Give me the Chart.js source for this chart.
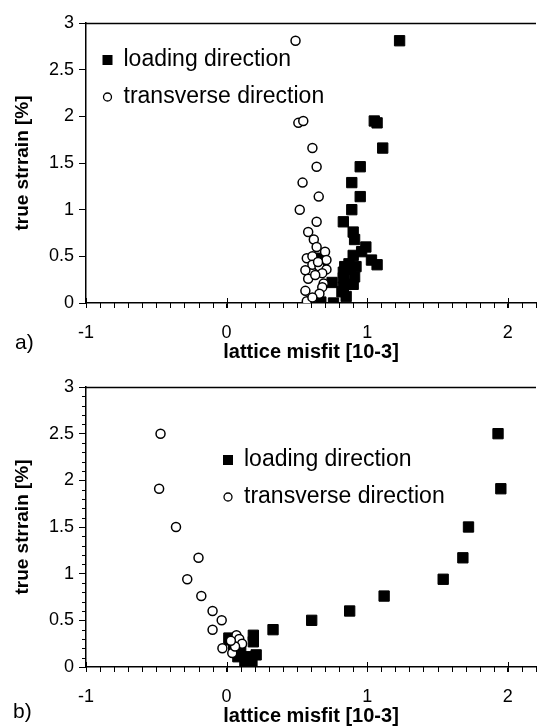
<!DOCTYPE html>
<html>
<head>
<meta charset="utf-8">
<script src="https://cdn.jsdelivr.net/npm/chart.js@4.4.1/dist/chart.umd.min.js"></script>
<style>
  body { margin: 0; background: #fff; overflow: hidden; }
  #wrap { position: relative; width: 540px; height: 726px; overflow: hidden; }
  canvas { position: absolute; left: 0; }
</style>
</head>
<body>
<div id="wrap">
  <canvas id="chartA" width="550" height="363" style="top:0px"></canvas>
  <canvas id="chartB" width="550" height="363" style="top:364px"></canvas>
</div>
<script>
// labels
var seriesNames = ['loading direction', 'transverse direction']
var xTitle = 'lattice misfit [10-3]'
var yTitle = 'true strrain [%]'
var xMin = -1, xMax = 2.2
var xMajorTicks = [-1, 0, 1, 2]
var yMajorTicks = [0, 0.5, 1, 1.5, 2, 2.5, 3]

// panel a) values [misfit, strain]
var loadingA = [[1.23,2.81],[1.05,1.95],[1.07,1.93],[1.11,1.66],[0.95,1.46],[0.89,1.29],[0.95,1.14],[0.89,1.00],
  [0.83,0.87],[0.90,0.76],[0.91,0.68],[0.99,0.60],[0.96,0.55],[0.90,0.51],[1.03,0.46],[1.07,0.41],[0.87,0.42],
  [0.84,0.39],[0.92,0.39],[0.83,0.33],[0.91,0.28],[0.83,0.27],[0.75,0.22],[0.83,0.17],[0.85,0.07],[0.76,0.00],
  [0.67,0.01],[0.67,0.48],[0.68,0.42],[0.67,0.36],[0.88,0.36],[0.90,0.20],[0.82,0.12]]
var transverseA = [[0.49,2.81],[0.51,1.93],[0.545,1.95],[0.61,1.66],[0.64,1.46],[0.54,1.29],[0.655,1.14],[0.52,1.00],
  [0.64,0.87],[0.58,0.76],[0.62,0.68],[0.64,0.60],[0.70,0.55],[0.57,0.48],[0.61,0.50],[0.71,0.46],[0.61,0.41],
  [0.66,0.39],[0.71,0.36],[0.56,0.35],[0.68,0.32],[0.58,0.26],[0.69,0.21],[0.68,0.17],[0.56,0.13],[0.66,0.10],
  [0.57,0.02],[0.61,0.06],[0.65,0.44],[0.63,0.30]]

// panel b) values [misfit, strain]
var loadingB = [[1.93,2.50],[1.95,1.91],[1.72,1.50],[1.68,1.17],[1.54,0.94],[1.12,0.76],[0.875,0.60],[0.605,0.50],
  [0.33,0.40],[0.19,0.34],[0.02,0.29],[0.19,0.27],[0.21,0.13],[0.18,0.04],[0.13,0.04],[0.05,0.18],[0.08,0.11],
  [0.15,0.11],[0.016,0.31],[0.16,0.07],[0.10,0.20]]
var transverseB = [[-0.47,2.50],[-0.48,1.91],[-0.36,1.50],[-0.20,1.17],[-0.28,0.94],[-0.18,0.76],[-0.10,0.60],
  [-0.035,0.50],[-0.10,0.40],[-0.03,0.20],[0.07,0.34],[0.09,0.30],[0.11,0.25],[0.04,0.15],[0.06,0.22],[0.03,0.28]]

var FONT = '"Liberation Sans", Arial, sans-serif'

function toPoints(arr){
  return arr.map(function(p){ return {x: p[0], y: p[1]} })
}

function isStep(v, step){
  return Math.abs(v/step - Math.round(v/step)) < 1e-6
}

// minor tick positions every 0.1
function tenths(from, to){
  var out = []
  for (var i = Math.round(from*10); i <= Math.round(to*10); i++){ out.push(i/10) }
  return out
}

// frame line, major/minor ticks, legend, panel letter
var decor = {
  id: 'decor',
  afterDraw: function(chart, args, opts){
    var ctx = chart.ctx, a = chart.chartArea, xs = chart.scales.x, ys = chart.scales.y
    ctx.save()
    ctx.strokeStyle = '#000'
    ctx.lineWidth = 1.5
    ctx.beginPath()
    ctx.moveTo(a.left, a.top + 0.5)
    ctx.lineTo(a.right, a.top + 0.5)
    ctx.stroke()
    ctx.lineWidth = 1
    ctx.beginPath()
    tenths(xMin, xMax).forEach(function(v){
      var px = Math.round(xs.getPixelForValue(v)) + 0.5
      var up = isStep(v, 1) ? 5 : 0
      ctx.moveTo(px, a.bottom - up)
      ctx.lineTo(px, a.bottom + 5)
    })
    if (opts.yMinor){
      tenths(0, 3).forEach(function(v){
        if (isStep(v, 0.5)) return
        var py = Math.round(ys.getPixelForValue(v)) + 0.5
        ctx.moveTo(a.left, py)
        ctx.lineTo(a.left - 4, py)
      })
    }
    ctx.stroke()

    // legend
    var lx = a.left + opts.legendDx, ly = a.top + opts.legendDy
    ctx.fillStyle = '#000'
    ctx.fillRect(lx - 5, ly - 5, 10, 10)
    ctx.beginPath()
    ctx.lineWidth = 1.3
    ctx.arc(lx, ly + 37, 4, 0, Math.PI * 2)
    ctx.stroke()
    ctx.font = '23px ' + FONT
    ctx.textBaseline = 'middle'
    ctx.textAlign = 'left'
    ctx.fillText(seriesNames[0], lx + 16, ly)
    ctx.fillText(seriesNames[1], lx + 16, ly + 37)

    ctx.font = '21px ' + FONT
    ctx.fillText(opts.panel, opts.panelX, opts.panelY)
    ctx.restore()
  }
}

function drewChart(id, loading, transverse, opts){
  var ctx = document.getElementById(id)
  return new Chart(ctx, {
    type: 'scatter',
    data: {
      datasets: [
        {label: seriesNames[1], data: toPoints(transverse), pointStyle: 'circle', pointRadius: 4.5,
         backgroundColor: '#fff', borderColor: '#000', borderWidth: 1.5},
        {label: seriesNames[0], data: toPoints(loading), pointStyle: 'rect', pointRadius: 7.3,
         backgroundColor: '#000', borderColor: '#000', borderWidth: 1}
      ]
    },
    plugins: [decor],
    options: {
      responsive: false,
      animation: false,
      layout: {padding: {top: 23, left: 0, right: 0, bottom: 0}},
      plugins: {
        legend: {display: false},
        tooltip: {enabled: false},
        decor: opts
      },
      scales: {
        x: {
          type: 'linear', min: xMin, max: xMax,
          afterFit: function(s){ s.height = 60 },
          afterBuildTicks: function(s){ s.ticks = xMajorTicks.concat([xMax]).map(function(v){ return {value: v} }) },
          border: {display: true, color: '#000', width: 1.5},
          grid: {drawOnChartArea: false, drawTicks: true, tickLength: 5, color: '#000'},
          ticks: {
            autoSkip: false, maxRotation: 0, padding: 14,
            color: '#000', font: {family: FONT, size: 18},
            callback: function(v){ return isStep(v, 1) ? String(Math.round(v)) : '' }
          },
          title: {display: true, text: xTitle, color: '#000', padding: {top: 0, bottom: 1},
            font: {family: FONT, size: 20, weight: 'bold', lineHeight: 1}}
        },
        y: {
          type: 'linear', min: 0, max: 3,
          afterFit: function(s){ s.width = 86 },
          afterBuildTicks: function(s){ s.ticks = yMajorTicks.map(function(v){ return {value: v} }) },
          border: {display: true, color: '#000', width: 1.5},
          grid: {drawOnChartArea: false, drawTicks: true, tickLength: 7, color: '#000'},
          ticks: {
            autoSkip: false, padding: 5,
            color: '#000', font: {family: FONT, size: 18},
            callback: function(v){ return String(v) }
          },
          title: {display: true, text: yTitle, color: '#000', padding: {top: 13, bottom: 0},
            font: {family: FONT, size: 19, weight: 'bold', lineHeight: 1}}
        }
      }
    }
  })
}

var chartA = drewChart('chartA', loadingA, transverseA,
  {legendDx: 21.5, legendDy: 37, panel: 'a)', panelX: 15, panelY: 343, yMinor: false})
var chartB = drewChart('chartB', loadingB, transverseB,
  {legendDx: 142, legendDy: 73, panel: 'b)', panelX: 13, panelY: 348, yMinor: true})
</script>
</body>
</html>
